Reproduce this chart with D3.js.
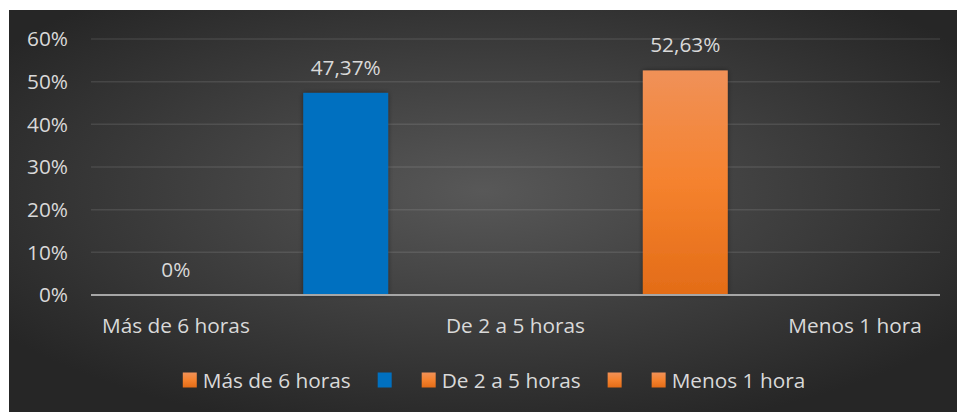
<!DOCTYPE html>
<html>
<head>
<meta charset="utf-8">
<script src="https://cdn.jsdelivr.net/npm/d3@7"></script>
<style>
  html, body { margin: 0; padding: 0; background: #fff; }
  svg { display: block; }
  text { font-family: "Open Sans", Lato, sans-serif; fill: #d9d9d9; }
</style>
</head>
<body>
<div id="chart"></div>
<script>
// categories (slots 2 and 4 have no label in the original sheet)
const categories = ["Más de 6 horas", "", "De 2 a 5 horas", "", "Menos 1 hora"];
const values = [0, 0.4737, null, 0.5263, null];
const colors = ["orange", "blue", "orange", "orange", "orange"];
const yTicks = [0, 0.1, 0.2, 0.3, 0.4, 0.5, 0.6];

const width = 958, height = 412;
const frame = { x: 9, y: 10, w: 948, h: 402 };
const plot = { left: 91, right: 940, top: 39, bottom: 295 };
const fontSize = "20.8px";

const svg = d3.select("#chart").append("svg")
    .attr("width", width)
    .attr("height", height);

const defs = svg.append("defs");

// dark radial background
const bg = defs.append("radialGradient")
    .attr("id", "bg")
    .attr("cx", "50%").attr("cy", "45%").attr("r", "62%");
bg.append("stop").attr("offset", "0%").attr("stop-color", "#585858");
bg.append("stop").attr("offset", "100%").attr("stop-color", "#262626");

const orangeGrad = defs.append("linearGradient")
    .attr("id", "orange")
    .attr("x1", 0).attr("y1", 0).attr("x2", 0).attr("y2", 1);
orangeGrad.append("stop").attr("offset", "0%").attr("stop-color", "#f09158");
orangeGrad.append("stop").attr("offset", "50%").attr("stop-color", "#f5822e");
orangeGrad.append("stop").attr("offset", "100%").attr("stop-color", "#e36c17");

const shadow = defs.append("filter").attr("id", "shadow")
    .attr("x", "-20%").attr("y", "-10%").attr("width", "140%").attr("height", "120%");
shadow.append("feDropShadow")
    .attr("dx", 0).attr("dy", 0)
    .attr("stdDeviation", 2.5)
    .attr("flood-color", "#000")
    .attr("flood-opacity", 0.45);

const fillFor = c => c === "blue" ? "#0070c0" : "url(#orange)";

svg.append("rect")
    .attr("x", frame.x).attr("y", frame.y)
    .attr("width", frame.w).attr("height", frame.h)
    .attr("fill", "url(#bg)");

const x = d3.scaleBand()
    .domain(d3.range(categories.length))
    .range([plot.left, plot.right])
    .paddingInner(0.5)
    .paddingOuter(0.25);

const y = d3.scaleLinear()
    .domain([0, 0.6])
    .range([plot.bottom, plot.top]);

const pct = d3.format(".0%");
const loc = d3.formatLocale({ decimal: ",", thousands: ".", grouping: [3], currency: ["", "€"] });
const pct2 = loc.format(".2%");

// gridlines
svg.append("g")
    .selectAll("line")
    .data(yTicks.slice(1))
    .join("line")
    .attr("x1", plot.left)
    .attr("x2", plot.right)
    .attr("y1", d => y(d))
    .attr("y2", d => y(d))
    .attr("stroke", "rgba(255,255,255,0.1)")
    .attr("stroke-width", 1.5);

// y labels
svg.append("g")
    .selectAll("text")
    .data(yTicks)
    .join("text")
    .attr("x", 68)
    .attr("y", d => y(d))
    .attr("dy", "0.36em")
    .attr("text-anchor", "end")
    .attr("font-size", fontSize)
    .text(d => pct(d));

// bars
const data = categories.map((c, i) => ({ i, c, v: values[i], color: colors[i] }));

svg.append("g")
    .selectAll("rect")
    .data(data.filter(d => d.v))
    .join("rect")
    .attr("x", d => x(d.i))
    .attr("y", d => y(d.v))
    .attr("width", x.bandwidth())
    .attr("height", d => y(0) - y(d.v))
    .attr("fill", d => fillFor(d.color))
    .attr("filter", "url(#shadow)");

// axis line
svg.append("line")
    .attr("x1", plot.left).attr("x2", plot.right)
    .attr("y1", y(0)).attr("y2", y(0))
    .attr("stroke", "#a6a6a6")
    .attr("stroke-width", 2);

// data labels
svg.append("g")
    .selectAll("text")
    .data(data.filter(d => d.v !== null))
    .join("text")
    .attr("x", d => x(d.i) + x.bandwidth() / 2)
    .attr("y", d => y(d.v) - 18)
    .attr("text-anchor", "middle")
    .attr("font-size", fontSize)
    .text(d => d.v === 0 ? "0%" : pct2(d.v));

// category labels
svg.append("g")
    .selectAll("text")
    .data(data)
    .join("text")
    .attr("x", d => x(d.i) + x.bandwidth() / 2)
    .attr("y", 326)
    .attr("dy", "0.36em")
    .attr("text-anchor", "middle")
    .attr("font-size", fontSize)
    .text(d => d.c);

// legend
const legend = svg.append("g");
let lx = 0;
data.forEach(d => {
    const item = legend.append("g").attr("transform", `translate(${lx},0)`);
    item.append("rect")
        .attr("x", 0).attr("y", -7.5)
        .attr("width", 14).attr("height", 15)
        .attr("fill", fillFor(d.color));
    const t = item.append("text")
        .attr("x", 20)
        .attr("dy", "0.36em")
        .attr("font-size", fontSize)
        .text(d.c);
    lx += d.c ? 20 + t.node().getComputedTextLength() + 27 : 44;
});
const legendW = lx - 27;
legend.attr("transform", `translate(${494 - legendW / 2},380)`);
</script>
</body>
</html>
